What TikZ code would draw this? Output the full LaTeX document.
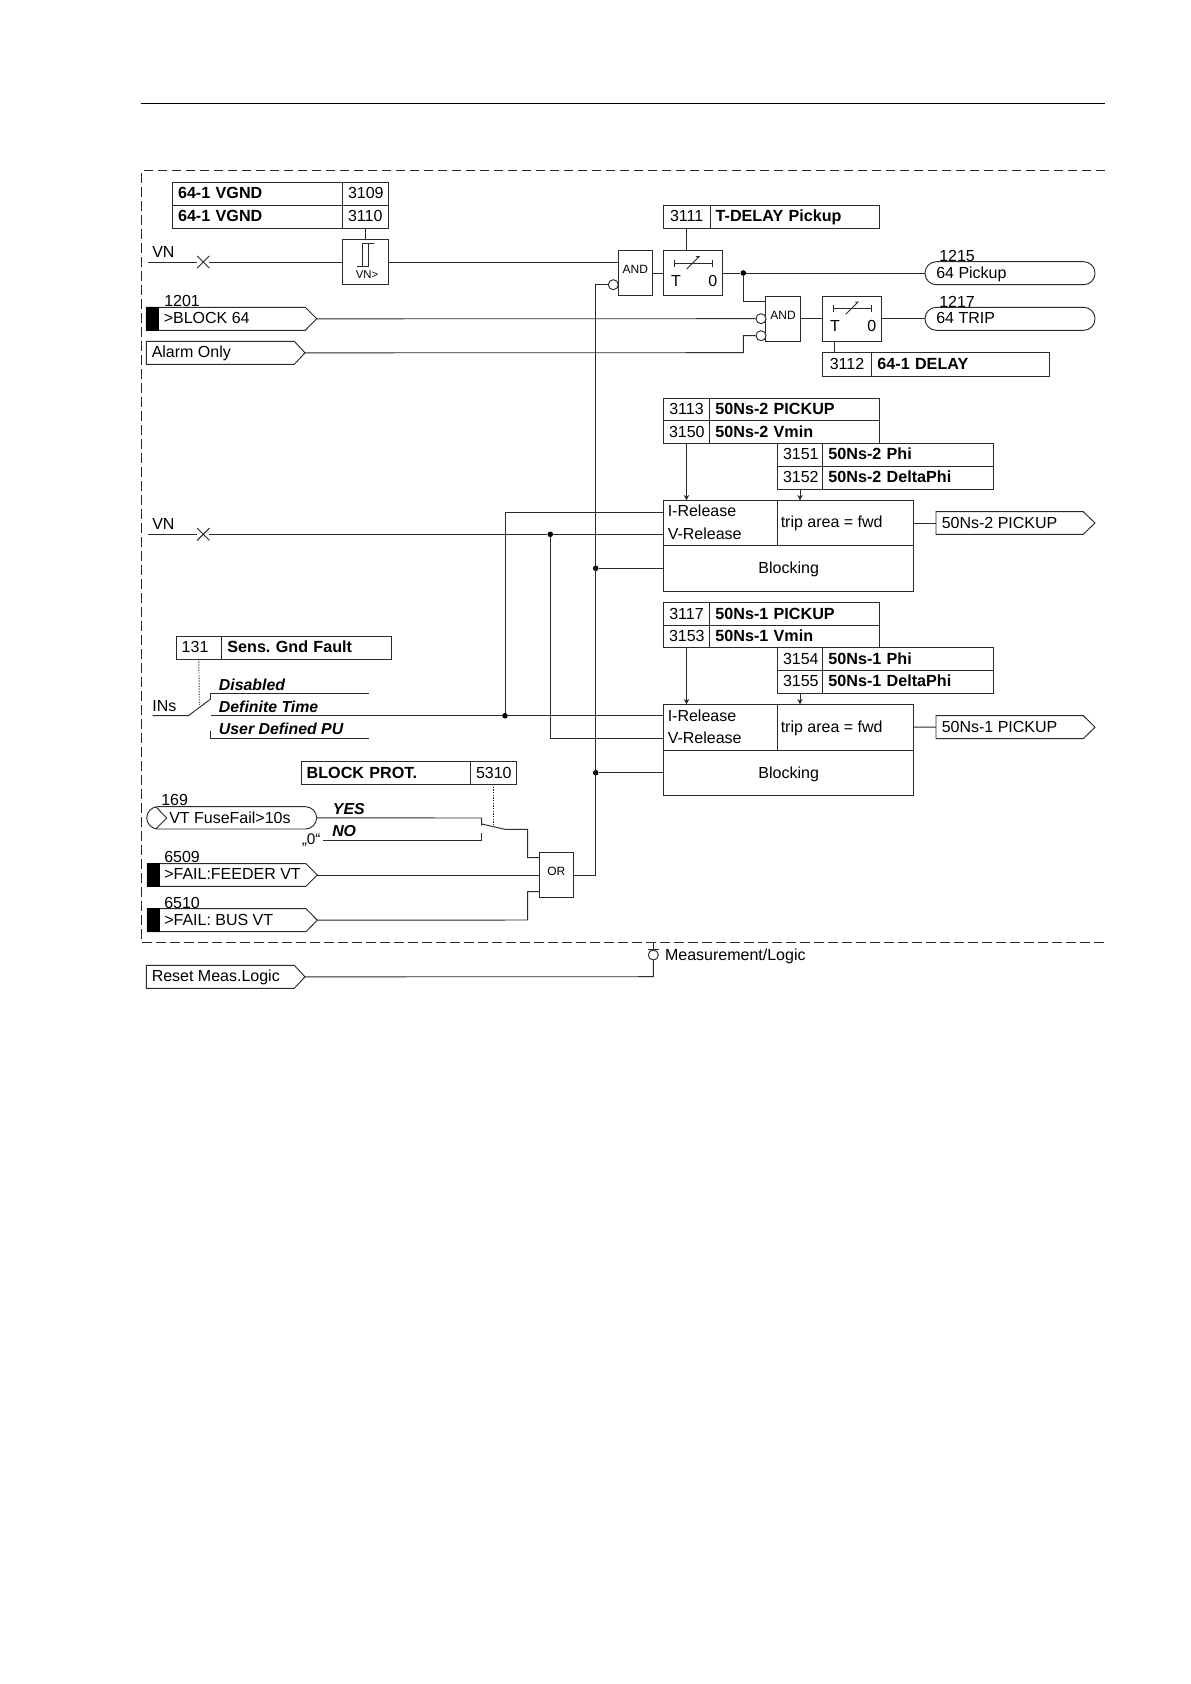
\documentclass[tikz,border=0pt]{standalone}
\usepackage{fontspec}
\setmainfont{Liberation Sans}
\usetikzlibrary{arrows.meta,shapes.misc}
\definecolor{ink}{HTML}{2A2A2A}
\tikzset{
  wire/.style={draw=ink,line width=0.7pt},
  dotline/.style={draw=ink,line width=0.7pt,dash pattern=on 1pt off 1pt},
  arrowwire/.style={wire,-{Stealth[length=4pt,width=4pt]}},
  frame/.style={draw=ink,line width=0.7pt,dash pattern=on 7pt off 3.5pt},
  cellbox/.style={draw=ink,line width=0.7pt,rectangle,inner sep=0pt,outer sep=0pt,text=black},
  numtxt/.style={font=\fontsize{12}{13}\selectfont,align=center,text height=9.75pt,text depth=2pt},
  boldtxt/.style={font=\fontsize{12.1}{13}\selectfont\bfseries\frenchspacing,align=left,text height=9.75pt,text depth=2pt},
  plain/.style={font=\fontsize{12}{13}\selectfont,inner sep=0pt,anchor=base west,text=black},
  bolditalic/.style={font=\fontsize{11.9}{13}\selectfont\bfseries\itshape,inner sep=0pt,anchor=base west,text=black},
  smalltxt/.style={font=\fontsize{9}{10}\selectfont,inner sep=0pt,anchor=center,text=black},
  junction/.style={circle,fill=black,draw=none,minimum size=4.2pt,inner sep=0pt},
  invert/.style={circle,draw=ink,fill=white,line width=0.7pt,minimum size=7.5pt,inner sep=0pt},
  crossmark/.style={cross out,draw=ink,line width=0.7pt,minimum size=8.5pt,inner sep=0pt},
  blackbar/.style={fill=black,draw=black,line width=0.4pt},
}
% generic box: [options]{name}{x1}{y1}{x2}{y2}{text}
\newcommand{\cell}[7][]{%
  \pgfmathsetmacro{\cw}{(#5-#3)*0.75}%
  \pgfmathsetmacro{\ch}{(#6-#4)*0.75}%
  \node[cellbox,minimum width=\cw pt,minimum height=\ch pt,text width={\cw pt-8.6pt},#1] (#2) at ({(#3+#5)/2},{(#4+#6)/2}) {#7};}
% tag with pointed end: {name}{x1}{y1}{xchamfer}{xtip}{y2}
\newcommand{\tagbox}[6]{%
  \cell[draw=none]{#1}{#2}{#3}{#5}{#6}{}%
  \draw[wire,line join=miter] (#2,#3) -- (#4,#3) -- (#5,{(#3+#6)/2}) -- (#4,#6) -- (#2,#6) -- cycle;}
% timer box: {name}{x1}{y1}{x2}{y2}
\newcommand{\timerbox}[5]{%
  \cell{#1}{#2}{#3}{#4}{#5}{}%
  \begin{scope}[shift={(#2,#3)}]
    \draw[wire] (10.7,9.1) -- (10.7,16.1) (10.7,12.6) -- (49,12.6) (49,9.1) -- (49,16.1);
    \draw[wire] (23.4,18.3) -- (35.7,6) -- (32.5,6);
    \node[plain] (#1T) at (7.5,35.3) {T};
    \node[plain] (#10) at (44.7,35.3) {0};
  \end{scope}}
\begin{document}
\begin{tikzpicture}[x=0.75pt,y=-0.75pt]
\useasboundingbox (0,0) rectangle (1190,1684);
\fill[white] (0,0) rectangle (1190,1684);

% page rule
\coordinate (ruleL) at (141,103.5);
\coordinate (ruleR) at (1105,103.5);
\draw[draw=black,line width=0.8pt] (ruleL) -- (ruleR);

% dashed frame
\coordinate (frTR) at (1105,170.7);
\coordinate (frTL) at (141.7,170.7);
\coordinate (frBL) at (141.7,942.7);
\coordinate (frBR) at (1105,942.7);
\draw[frame] (frTR) -- (frTL) -- (frBL) -- (frBR);

% ---------- settings tables
\cell[boldtxt]{t3109a}{172.3}{182.3}{342.3}{205.3}{64-1 VGND}
\cell[numtxt]{t3109b}{342.3}{182.3}{388.3}{205.3}{3109}
\cell[boldtxt]{t3110a}{172.3}{205.3}{342.3}{228}{64-1 VGND}
\cell[numtxt]{t3110b}{342.3}{205.3}{388.3}{228}{3110}

\cell[numtxt]{t3111a}{663.3}{205.3}{710}{228}{3111}
\cell[boldtxt]{t3111b}{710}{205.3}{879.3}{228}{T-DELAY Pickup}

\cell[numtxt]{t3112a}{822.3}{352.7}{871.7}{376}{3112}
\cell[boldtxt]{t3112b}{871.7}{352.7}{1049.7}{376}{64-1 DELAY}

\cell[numtxt]{t3113a}{663.3}{398.3}{709.7}{420.7}{3113}
\cell[boldtxt]{t3113b}{709.7}{398.3}{879.3}{420.7}{50Ns-2 PICKUP}
\cell[numtxt]{t3150a}{663.3}{420.7}{709.7}{443.3}{3150}
\cell[boldtxt]{t3150b}{709.7}{420.7}{879.3}{443.3}{50Ns-2 Vmin}
\cell[numtxt]{t3151a}{777.3}{443.3}{822.7}{466.3}{3151}
\cell[boldtxt]{t3151b}{822.7}{443.3}{993.3}{466.3}{50Ns-2 Phi}
\cell[numtxt]{t3152a}{777.3}{466.3}{822.7}{489}{3152}
\cell[boldtxt]{t3152b}{822.7}{466.3}{993.3}{489}{50Ns-2 DeltaPhi}

\cell[numtxt]{t3117a}{663.3}{602.7}{709.7}{625.3}{3117}
\cell[boldtxt]{t3117b}{709.7}{602.7}{879.3}{625.3}{50Ns-1 PICKUP}
\cell[numtxt]{t3153a}{663.3}{625.3}{709.7}{647.7}{3153}
\cell[boldtxt]{t3153b}{709.7}{625.3}{879.3}{647.7}{50Ns-1 Vmin}
\cell[numtxt]{t3154a}{777.3}{647.7}{822.7}{670.3}{3154}
\cell[boldtxt]{t3154b}{822.7}{647.7}{993.3}{670.3}{50Ns-1 Phi}
\cell[numtxt]{t3155a}{777.3}{670.3}{822.7}{693}{3155}
\cell[boldtxt]{t3155b}{822.7}{670.3}{993.3}{693}{50Ns-1 DeltaPhi}

\cell[numtxt,align=left]{t131a}{176}{636.3}{221.7}{659}{131}
\cell[boldtxt]{t131b}{221.7}{636.3}{391.3}{659}{Sens. Gnd Fault}
\cell[boldtxt]{t5310a}{301}{761.7}{470.3}{784}{BLOCK PROT.}
\cell[numtxt]{t5310b}{470.3}{761.7}{516.3}{784}{5310}

% ---------- threshold element
\cell{vnbox}{342.3}{239.3}{388.3}{284.3}{}
\draw[wire] (356.7,266) -- (368.7,266) -- (368.7,243.7) -- (374.3,243.7) -- (362.7,243.7) -- (362.7,266);
\node[smalltxt,font=\fontsize{8.5}{10}\selectfont] (vnlabel) at (367,274.3) {VN>};

% ---------- gates
\cell{and1}{618.3}{250.7}{652.3}{295.7}{}
\node[smalltxt] (and1t) at (635.3,269.3) {AND};
\cell{and2}{765.7}{296}{800}{341.3}{}
\node[smalltxt] (and2t) at (783,315) {AND};
\cell{orgate}{539}{852.3}{573.3}{897.3}{}
\node[smalltxt] (ort) at (556.3,871.5) {OR};

\timerbox{tim1}{663.3}{250.7}{722.3}{295.7}
\timerbox{tim2}{822.3}{296}{881.7}{341.3}

% ---------- inverted inputs
\node[invert] (inv1) at (613.3,284.7) {};
\node[invert] (inv2) at (761,318.7) {};
\node[invert] (inv3) at (761,335.7) {};

% ---------- output pills
\cell[rounded corners=8.5pt]{pill1}{925}{261.7}{1095}{284.7}{}
\node[plain] (pill1t) at (936,278.3) {64 Pickup};
\node[plain] (lab1215) at (939,261.5) {1215};
\cell[rounded corners=8.5pt]{pill2}{925}{307.3}{1095}{330.3}{}
\node[plain] (pill2t) at (936,323.6) {64 TRIP};
\node[plain] (lab1217) at (939,307) {1217};

% ---------- measuring blocks
\cell{blk1a}{663.3}{500.3}{777.3}{545.7}{}
\cell{blk1b}{777.3}{500.3}{913.3}{545.7}{}
\cell{blk1c}{663.3}{545.7}{913.3}{591}{}
\node[plain] (blk1i) at (667.5,516) {I-Release};
\node[plain] (blk1v) at (667.5,539.7) {V-Release};
\node[plain] (blk1t) at (780.5,527.4) {trip area = fwd};
\node[plain,anchor=base] (blk1k) at (788.7,573.6) {Blocking};

\cell{blk2a}{663.3}{704.3}{777.3}{750}{}
\cell{blk2b}{777.3}{704.3}{913.3}{750}{}
\cell{blk2c}{663.3}{750}{913.3}{795}{}
\node[plain] (blk2i) at (667.5,721) {I-Release};
\node[plain] (blk2v) at (667.5,743.7) {V-Release};
\node[plain] (blk2t) at (780.5,732.4) {trip area = fwd};
\node[plain,anchor=base] (blk2k) at (788.7,778.6) {Blocking};

% ---------- tags
\tagbox{out2}{936}{511.7}{1083.3}{1095}{534.3}
\node[plain] (out2t) at (941.5,528.8) {50Ns-2 PICKUP};
\tagbox{out1}{936}{715.7}{1083.3}{1095}{738.7}
\node[plain] (out1t) at (941.5,732.8) {50Ns-1 PICKUP};

\tagbox{blk64}{146.3}{307.3}{305.3}{316.7}{330.3}
\fill[blackbar] (146.3,307.3) rectangle (158.3,330.3);
\node[plain] (blk64t) at (163.5,323.6) {>BLOCK 64};
\node[plain] (lab1201) at (164,306) {1201};

\tagbox{alarm}{146.3}{341.3}{294.3}{305}{364.3}
\node[plain] (alarmt) at (151.5,357.6) {Alarm Only};

\tagbox{feeder}{147.3}{863.7}{306}{317.3}{886.3}
\fill[blackbar] (147.3,863.7) rectangle (159,886.3);
\node[plain] (feedert) at (164,879.8) {>FAIL:FEEDER VT};
\node[plain] (lab6509) at (164,862.7) {6509};

\tagbox{busvt}{147.3}{908.7}{306}{317.3}{931.7}
\fill[blackbar] (147.3,908.7) rectangle (159,931.7);
\node[plain] (busvtt) at (164,925) {>FAIL: BUS VT};
\node[plain] (lab6510) at (164,908) {6510};

\tagbox{reset}{146.3}{965.3}{294.3}{305}{988.3}
\node[plain] (resett) at (151.5,981.5) {Reset Meas.Logic};

% VT FuseFail pill with chevron
\cell[rounded corners=8.5pt]{vtpill}{146.7}{806.7}{316.7}{829}{}
\draw[wire] (155.7,806.7) -- (166.7,818) -- (155.7,829);
\node[plain] (vtt) at (169,823) {VT FuseFail>10s};
\node[plain] (lab169) at (161,805) {169};

% ---------- free labels
\node[plain] (vnlab1) at (152,257.5) {VN};
\node[plain] (vnlab2) at (152,529.5) {VN};
\node[plain] (inslab) at (152.2,711) {INs};
\node[bolditalic] (optDis) at (218.7,690) {Disabled};
\node[bolditalic] (optDef) at (218.7,712.7) {Definite Time};
\node[bolditalic] (optUsr) at (218.7,734.3) {User Defined PU};
\node[bolditalic] (optYes) at (332.7,814.7) {YES};
\node[bolditalic] (optNo) at (332,836.7) {NO};
\node[plain,font=\fontsize{11.5}{13}\selectfont] (zero) at (301.5,844.5) {„0“};
\node[plain] (measlab) at (664.8,960) {Measurement/Logic};

% ---------- junctions and free ends
\coordinate (vn1s) at (147.7,262);
\coordinate (vn2s) at (147.7,534.3);
\node[crossmark] (x1) at (203.3,262) {};
\node[crossmark] (x2) at (203.3,534.3) {};
\node[junction] (jA) at (743.3,273) {};
\node[junction] (jB) at (550.3,534.3) {};
\node[junction] (jC) at (505,715.7) {};
\node[junction] (jD) at (595.7,568.3) {};
\node[junction] (jE) at (595.7,772.7) {};
\coordinate (busT) at (595.7,284.7);
\coordinate (busB) at (595.7,875);
\coordinate (alarmUp) at (743.3,352.7);
\coordinate (ins1) at (152.7,715.7);
\coordinate (ins2) at (188.3,715.7);
\coordinate (ins3) at (210.7,699);
\coordinate (c1a) at (210.7,693);
\coordinate (c1b) at (369,693);
\coordinate (c2a) at (210.7,715.7);
\coordinate (c3t) at (210.7,730.7);
\coordinate (c3a) at (210.7,738.3);
\coordinate (c3b) at (369,738.3);
\coordinate (dot131) at (199.3,705);
\coordinate (dot5310) at (493.3,825.7);
\coordinate (yesE) at (481.7,818);
\coordinate (yesT) at (481.7,825.7);
\coordinate (noS) at (323.3,840.7);
\coordinate (noE) at (481.7,840.7);
\coordinate (noT) at (481.7,833.3);
\coordinate (swA) at (481.7,824);
\coordinate (swB) at (505,829.3);
\coordinate (swC) at (527.7,829.3);
\coordinate (or1) at (527.7,857.7);
\coordinate (or3) at (527.7,891.7);
\coordinate (busvtC) at (527.7,920);
\node[invert] (invM) at (653.3,955) {};
\coordinate (frameTap) at (653.3,942.7);
\coordinate (barL) at (648,949.3);
\coordinate (barR) at (658.6,949.3);
\coordinate (resetC) at (653.3,976.7);

% ---------- connectors
\draw[wire] (t3110b.south) -- (vnbox.north);
\draw[wire] (vn1s) -- (x1) -- (vnbox.west |- vn1s);
\draw[wire] (vnbox.east |- vn1s) -- (and1.west |- vn1s);
\draw[wire] (and1.east |- tim1) -- (tim1.west);
\draw[wire] (t3111a.south) -- (tim1.north -| t3111a.south);
\draw[wire] (tim1.east |- jA) -- (jA) -- (pill1.west |- jA);
\draw[wire] (jA) -- (jA |- 0,301.7) -- (and2.west |- 0,301.7);
\draw[wire] (blk64.east) -- (inv2.west);
\draw[wire] (alarm.east) -- (alarmUp) -- (alarmUp |- inv3) -- (inv3.west);
\draw[wire] (and2.east |- inv2) -- (tim2.west |- inv2);
\draw[wire] (tim2.east |- inv2) -- (pill2.west |- inv2);
\draw[wire] (tim2.south -| 834.3,0) -- (t3112a.north -| 834.3,0);
\draw[wire] (busB) -- (busT) -- (inv1.west);
\draw[wire] (orgate.east |- busB) -- (busB);
\draw[wire] (feeder.east) -- (orgate.west |- feeder.east);
\draw[wire] (vtpill.east) -- (yesE) -- (yesT);
\draw[wire] (noS) -- (noE) -- (noT);
\draw[wire] (swA) -- (swB) -- (swC) -- (or1) -- (orgate.west |- or1);
\draw[wire] (busvt.east) -- (busvtC) -- (or3) -- (orgate.west |- or3);
\draw[dotline] (t5310b.south) -- (dot5310);
\draw[dotline] (t131a.south) -- (dot131);
\draw[wire] (ins1) -- (ins2) -- (ins3);
\draw[wire] (c3t) -- (c3a) -- (c3b);
\draw[wire] (ins3) -- (c1a) -- (c1b);
\draw[wire] (c2a) -- (jC) -- (blk2a.west |- jC);
\draw[wire] (jC) -- (505,512) -- (blk1a.west |- 0,512);
\draw[wire] (vn2s) -- (x2) -- (jB) -- (blk1a.west |- jB);
\draw[wire] (jB) -- (550.3,738.7) -- (blk2a.west |- 0,738.7);
\draw[wire] (jD) -- (blk1c.west |- jD);
\draw[wire] (jE) -- (blk2c.west |- jE);
\draw[arrowwire] (t3150a.south) -- (blk1a.north -| t3150a.south);
\draw[arrowwire] (t3152a.south -| 800,0) -- (blk1b.north -| 800,0);
\draw[arrowwire] (t3153a.south) -- (blk2a.north -| t3153a.south);
\draw[arrowwire] (t3155a.south -| 800,0) -- (blk2b.north -| 800,0);
\draw[wire] (blk1b.east) -- (out2.west);
\draw[wire] (blk2b.east) -- (out1.west);
\draw[wire] (reset.east) -- (resetC) -- (invM.south);
\draw[wire] (frameTap) -- (invM.north);
\draw[wire] (barL) -- (barR);
\end{tikzpicture}
\end{document}
